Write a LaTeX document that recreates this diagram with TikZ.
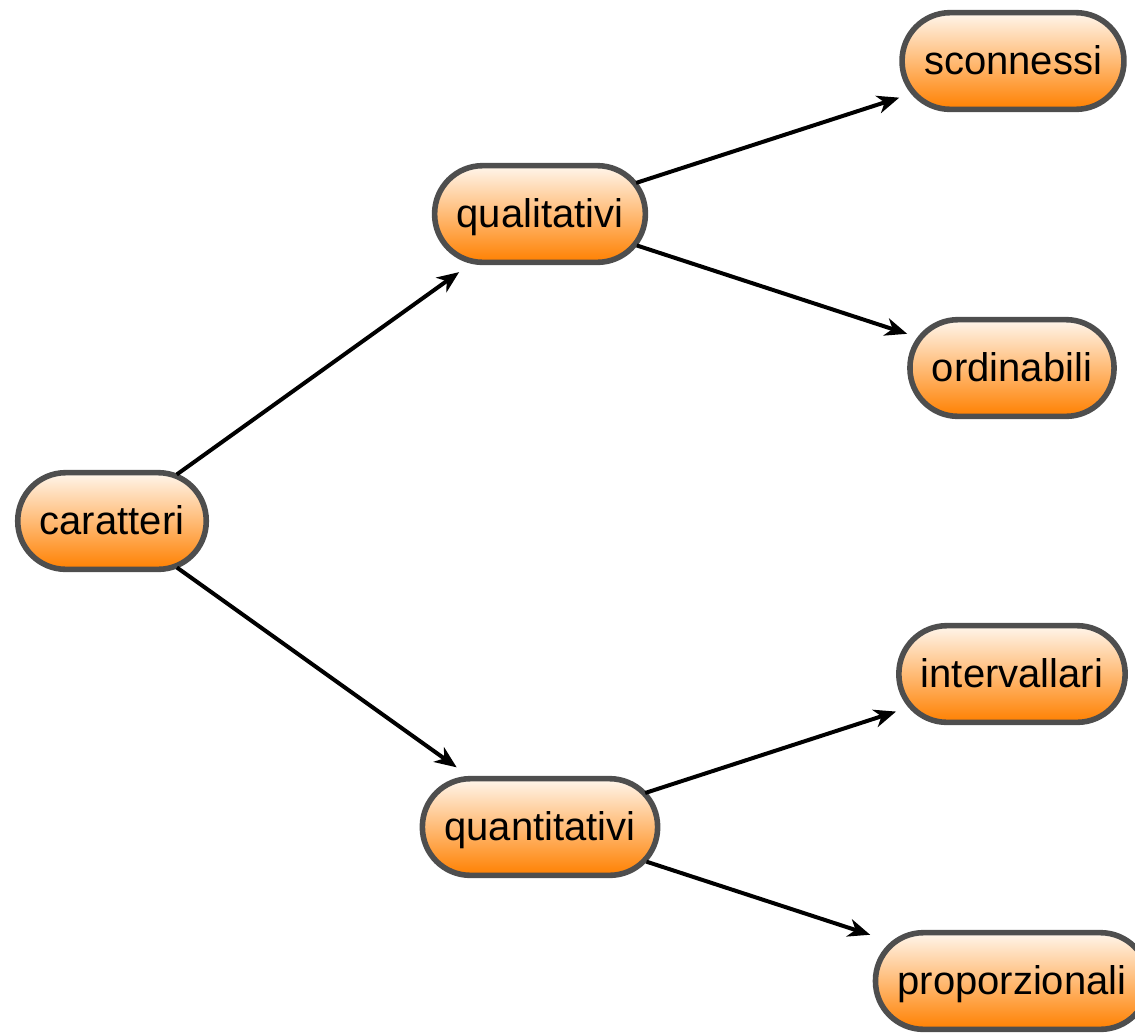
\documentclass[tikz,border=0pt]{standalone}
\usepackage{fontspec}
\setmainfont{Liberation Sans}
\usetikzlibrary{arrows.meta}
\definecolor{pillborder}{RGB}{78,78,78}
\definecolor{pilltop}{RGB}{255,246,236}
\definecolor{pillbot}{RGB}{255,128,0}
\tikzset{
  pill/.style={draw=pillborder, line width=4.2pt, rounded corners=36pt,
    minimum height=72.5pt, inner xsep=16.5pt, inner ysep=0pt,
    text height=22.5pt, text depth=3pt,
    top color=pilltop, bottom color=pillbot,
    font=\fontsize{30}{36}\selectfont, text=black},
  link/.style={draw=black, line width=3pt,
    -{Stealth[length=16.5pt,width=13.5pt,inset=5pt]}}
}
\begin{document}
\begin{tikzpicture}[x=0.75pt,y=-0.75pt]
\useasboundingbox (0,0) rectangle (1135,1033);
\node[pill] (car) at (112,521) {caratteri};
\node[pill] (qual) at (540,214) {qualitativi};
\node[pill] (quan) at (540,827) {quantitativi};
\node[pill] (sco) at (1013,61) {sconnessi};
\node[pill] (ord) at (1012,368) {ordinabili};
\node[pill] (int) at (1012,674) {intervallari};
\node[pill] (pro) at (1012,981) {proporzionali};
\draw[link, shorten <=-6pt, shorten >=9pt] (car) -- (qual);
\draw[link, shorten <=-6pt, shorten >=11pt] (car) -- (quan);
\draw[link, shorten <=-9.5pt, shorten >=0pt] (qual) -- (sco);
\draw[link, shorten <=-9pt, shorten >=0pt] (qual) -- (ord);
\draw[link, shorten <=-12pt, shorten >=0pt] (quan) -- (int);
\draw[link, shorten <=-11pt, shorten >=2pt] (quan) -- (pro);
\end{tikzpicture}
\end{document}
